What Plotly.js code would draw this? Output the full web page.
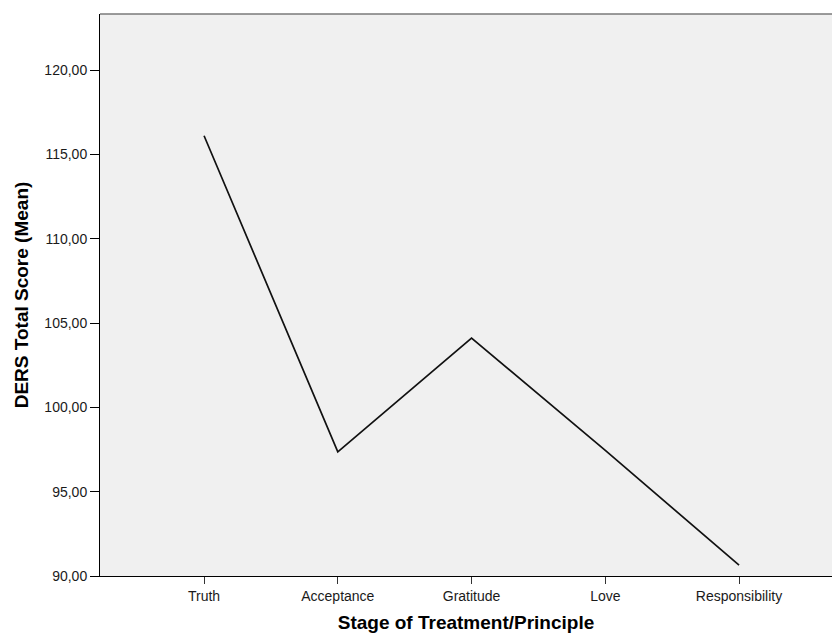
<!DOCTYPE html>
<html>
<head>
<meta charset="utf-8">
<script src="https://cdn.plot.ly/plotly-3.0.1.min.js"></script>
<style>html,body{margin:0;padding:0;background:#fff;}</style>
</head>
<body>
<div id="chart" style="width:832px;height:633px;"></div>
<script>
const categories = ["Truth", "Acceptance", "Gratitude", "Love", "Responsibility"];
const meanScores = [116.1, 97.36, 104.11, 97.45, 90.64];
const yTickValues = [90, 95, 100, 105, 110, 115, 120];
const xTitle = "Stage of Treatment/Principle";
const yTitle = "DERS Total Score (Mean)";

const trace = {
  x: categories,
  y: meanScores,
  type: "scatter",
  mode: "lines",
  line: {color: "#111111", width: 1.7},
  hoverinfo: "x+y"
};

const layout = {
  width: 832,
  height: 633,
  margin: {l: 100, r: 0, t: 14, b: 57},
  paper_bgcolor: "#ffffff",
  plot_bgcolor: "#f0f0f0",
  separators: ",.",
  showlegend: false,
  font: {family: "Liberation Sans, Arial, sans-serif", size: 14, color: "#1a1a1a"},
  xaxis: {
    type: "category",
    range: [-0.778, 4.695],
    showgrid: false,
    zeroline: false,
    showline: true,
    linecolor: "#000000",
    linewidth: 1,
    ticks: "outside",
    ticklen: 7,
    tickwidth: 1,
    tickcolor: "#333333",
    tickfont: {family: "Liberation Sans, Arial, sans-serif", size: 14, color: "#1a1a1a"},
    title: {text: xTitle, font: {family: "Liberation Sans, Arial, sans-serif", size: 19, color: "#000000", weight: "bold"}, standoff: 12}
  },
  yaxis: {
    range: [90, 123.32],
    tickvals: yTickValues,
    tickformat: ".2f",
    showgrid: false,
    zeroline: false,
    showline: true,
    linecolor: "#000000",
    linewidth: 1,
    ticks: "outside",
    ticklen: 9,
    tickwidth: 1,
    tickcolor: "#000000",
    tickfont: {family: "Liberation Sans, Arial, sans-serif", size: 14, color: "#1a1a1a"},
    title: {text: yTitle, font: {family: "Liberation Sans, Arial, sans-serif", size: 19, color: "#000000", weight: "bold"}, standoff: 10}
  },
  shapes: [{
    type: "line", xref: "paper", yref: "paper",
    x0: 0, x1: 1, y0: 1, y1: 1,
    line: {color: "#7a7a7a", width: 1.5}
  }]
};

Plotly.newPlot("chart", [trace], layout, {displayModeBar: false, staticPlot: true});
</script>
</body>
</html>
